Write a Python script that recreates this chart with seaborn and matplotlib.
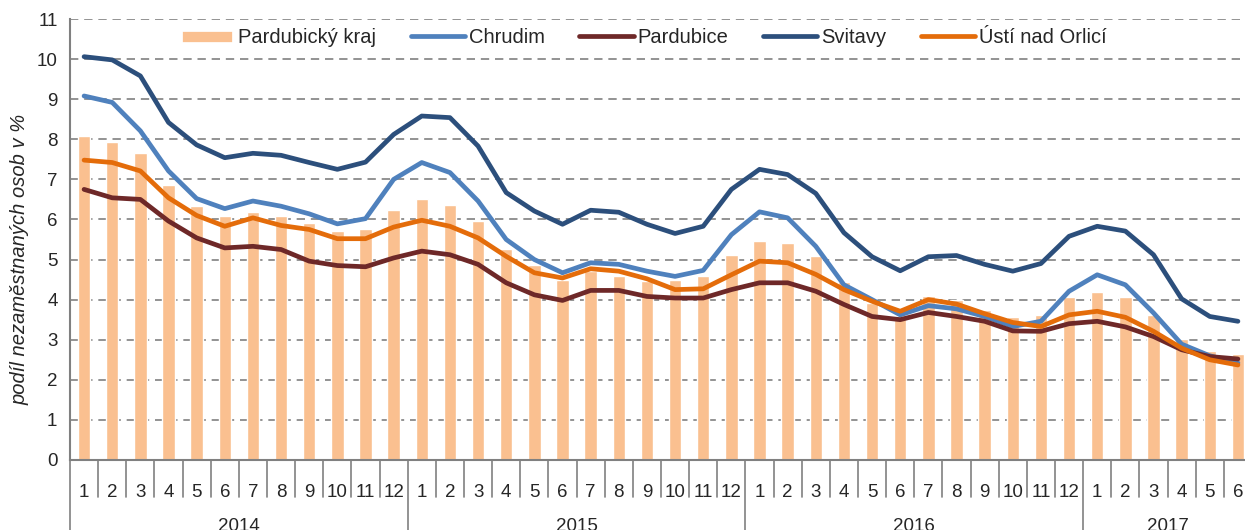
import numpy as np
import pandas as pd
import matplotlib
matplotlib.use("Agg")
import matplotlib.pyplot as plt
import matplotlib.transforms as mtransforms
import seaborn as sns

years = ["2014", "2015", "2016", "2017"]
months_per_year = [12, 12, 12, 6]
month_labels = [str(m) for n in months_per_year for m in range(1, n + 1)]

kraj = [8.08, 7.93, 7.65, 6.87, 6.33, 6.08, 6.19, 6.08, 5.90, 5.71, 5.75, 6.24,
        6.52, 6.37, 5.96, 5.27, 4.87, 4.48, 4.71, 4.58, 4.46, 4.50, 4.58, 5.12,
        5.46, 5.42, 5.08, 4.44, 3.92, 3.58, 4.10, 4.00, 3.75, 3.56, 3.61, 4.06,
        4.19, 4.06, 3.61, 3.03, 2.73, 2.65]
chrudim = [9.08, 8.92, 8.21, 7.21, 6.52, 6.27, 6.46, 6.33, 6.14, 5.89, 6.02, 7.00,
           7.42, 7.17, 6.46, 5.50, 5.00, 4.67, 4.92, 4.88, 4.71, 4.58, 4.73, 5.62,
           6.19, 6.04, 5.33, 4.37, 4.00, 3.62, 3.85, 3.77, 3.58, 3.33, 3.46, 4.21,
           4.62, 4.37, 3.67, 2.89, 2.60, 2.42]
pardubice = [6.75, 6.54, 6.50, 5.96, 5.54, 5.29, 5.33, 5.25, 4.96, 4.85, 4.82, 5.04,
             5.21, 5.12, 4.88, 4.42, 4.12, 3.98, 4.23, 4.23, 4.08, 4.04, 4.04, 4.25,
             4.42, 4.42, 4.21, 3.88, 3.58, 3.50, 3.68, 3.58, 3.46, 3.22, 3.21, 3.40,
             3.46, 3.32, 3.08, 2.75, 2.58, 2.52]
svitavy = [10.06, 9.98, 9.58, 8.42, 7.86, 7.54, 7.65, 7.60, 7.42, 7.25, 7.43, 8.12,
           8.58, 8.54, 7.83, 6.67, 6.21, 5.88, 6.23, 6.18, 5.88, 5.65, 5.83, 6.75,
           7.25, 7.12, 6.65, 5.67, 5.07, 4.72, 5.07, 5.10, 4.88, 4.71, 4.90, 5.58,
           5.83, 5.71, 5.12, 4.02, 3.58, 3.46]
usti = [7.48, 7.42, 7.21, 6.54, 6.10, 5.83, 6.04, 5.85, 5.75, 5.52, 5.52, 5.81,
        5.98, 5.83, 5.54, 5.08, 4.67, 4.54, 4.77, 4.71, 4.52, 4.25, 4.27, 4.62,
        4.96, 4.92, 4.63, 4.25, 3.96, 3.71, 4.00, 3.89, 3.65, 3.43, 3.33, 3.62,
        3.71, 3.56, 3.21, 2.79, 2.50, 2.37]

line_series = {"Chrudim": chrudim, "Pardubice": pardubice,
               "Svitavy": svitavy, "Ústí nad Orlicí": usti}
line_colors = {"Chrudim": "#4F81BD", "Pardubice": "#6E2828",
               "Svitavy": "#2C4F7C", "Ústí nad Orlicí": "#E46C0A"}

pos = np.arange(len(month_labels))
bars = pd.DataFrame({"pos": pos, "value": kraj})
lines = pd.DataFrame([
    {"pos": i, "value": v, "okres": name}
    for name, vals in line_series.items() for i, v in enumerate(vals)
])

sns.set_style("white")
plt.rcParams["font.family"] = ["Liberation Sans", "DejaVu Sans"]

fig = plt.figure(figsize=(12.45, 5.3), dpi=100)
ax = fig.add_axes([70 / 1245, 70 / 530, 1182 / 1245, 441 / 530])

sns.barplot(data=bars, x="pos", y="value", color="#FAC090", saturation=1,
            width=0.44, ax=ax, label="Pardubický kraj", zorder=2)
sns.lineplot(data=lines, x="pos", y="value", hue="okres", palette=line_colors,
             linewidth=3.4, ax=ax, zorder=3)

ax.set_xlim(-0.5, len(pos) - 0.5)
ax.set_ylim(0, 11)
ax.set_yticks(range(0, 12))
ax.yaxis.grid(True, color="#808080", linestyle=(0, (5, 3.5)), linewidth=1.2, zorder=0)
ax.set_axisbelow(True)

for s in ["top", "right"]:
    ax.spines[s].set_visible(False)
for s in ["left", "bottom"]:
    ax.spines[s].set_color("#808080")
    ax.spines[s].set_linewidth(1.5)

ax.tick_params(axis="y", length=5, width=1.2, color="#808080", labelsize=13.5, pad=4)
ax.set_xticks(pos)
ax.set_xticklabels(month_labels, fontsize=13.5)
ax.tick_params(axis="x", length=0, pad=17)
ax.set_xlabel("")
ax.set_ylabel("podíl nezaměstnaných osob v %", fontsize=14.5, style="italic")
ax.yaxis.set_label_coords(-0.034, 0.455)

# two-level category axis: separators and years
trans = mtransforms.blended_transform_factory(ax.transData, ax.transAxes)
bounds = np.cumsum([0] + months_per_year) - 0.5
for b in np.arange(-0.5, len(pos), 1.0):
    bottom = -0.22 if np.any(np.isclose(bounds, b)) else -0.084
    ax.plot([b, b], [0, bottom], transform=trans, color="#808080",
            linewidth=1.2, clip_on=False)
for y, lo, hi in zip(years, bounds[:-1], bounds[1:]):
    ax.text((lo + hi) / 2, -0.15, y, transform=trans, ha="center", va="center",
            fontsize=13.5)

handles, labels = ax.get_legend_handles_labels()
order = ["Pardubický kraj", "Chrudim", "Pardubice", "Svitavy", "Ústí nad Orlicí"]
hmap = dict(zip(labels, handles))
leg = ax.legend([hmap[k] for k in order], order, loc="center", ncol=5,
                bbox_to_anchor=(0.485, 0.957), frameon=False, fontsize=14.5,
                handlelength=2.7, handleheight=0.8, handletextpad=0.2,
                columnspacing=1.7)
for h in leg.legend_handles:
    if hasattr(h, "set_linewidth"):
        h.set_linewidth(3.4)

fig.savefig("out.png", dpi=100)
